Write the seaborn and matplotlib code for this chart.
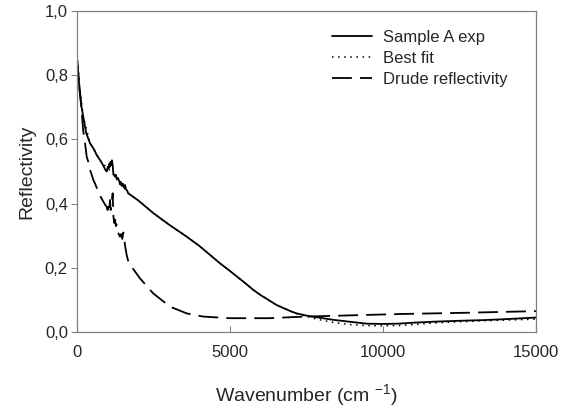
import numpy as np
import pandas as pd
import seaborn as sns
import matplotlib.pyplot as plt
from matplotlib.ticker import FixedLocator, FuncFormatter

# measured spectrum (Sample A exp)
exp_x = [0, 30, 80, 150, 206, 300, 425, 550, 650, 752, 850, 930, 970, 1010, 1040,
         1060, 1078, 1100, 1120, 1140, 1166, 1180, 1200, 1242, 1270, 1300, 1340,
         1380, 1405, 1430, 1460, 1500, 1530, 1569, 1600, 1640, 1677, 2000, 2500,
         3000, 3584, 4000, 4673, 5000, 5500, 5762, 6000, 6525, 7000, 7179, 7500,
         7832, 8366, 9000, 9467, 10000, 10500, 11000, 11634, 12500, 13268,
         14000, 15000]
exp_y = [0.85, 0.82, 0.76, 0.70, 0.67, 0.62, 0.588, 0.57, 0.55, 0.536, 0.52, 0.505,
         0.50, 0.515, 0.51, 0.525, 0.515, 0.53, 0.52, 0.535, 0.52, 0.50, 0.49, 0.484,
         0.49, 0.475, 0.48, 0.47, 0.46, 0.468, 0.455, 0.462, 0.45, 0.458, 0.445, 0.44,
         0.432, 0.41, 0.37, 0.335, 0.297, 0.268, 0.214, 0.19, 0.152, 0.131, 0.115,
         0.084, 0.064, 0.058, 0.051, 0.046, 0.038, 0.031, 0.026, 0.025, 0.026,
         0.029, 0.032, 0.035, 0.037, 0.040, 0.045]

# best fit
fit_x = [0, 80, 206, 425, 752, 1000, 1300, 1677, 2000, 2500, 3000, 3584, 4000,
         4673, 5000, 5500, 5762, 6000, 6525, 7000, 7179, 7500, 7832, 8366, 8920,
         9500, 10000, 10500, 11000, 11634, 12500, 13268, 14000, 15000]
fit_y = [0.865, 0.77, 0.67, 0.59, 0.535, 0.51, 0.48, 0.432, 0.41, 0.37, 0.335,
         0.297, 0.268, 0.214, 0.19, 0.152, 0.131, 0.115, 0.084, 0.064, 0.057, 0.048,
         0.04, 0.03, 0.023, 0.02, 0.019, 0.02, 0.023, 0.028, 0.032, 0.035, 0.037,
         0.04]

# Drude reflectivity
drude_x = [0, 80, 150, 206, 260, 317, 370, 425, 480, 533, 600, 697, 780, 860, 930,
           970, 1000, 1023, 1050, 1078, 1100, 1130, 1166, 1190, 1220, 1242, 1270,
           1300, 1340, 1405, 1440, 1480, 1514, 1569, 1623, 1677, 1786, 2058, 2494,
           3039, 3584, 4128, 5000, 6307, 7179, 7832, 10555, 12745, 15000]
drude_y = [0.85, 0.76, 0.69, 0.624, 0.59, 0.546, 0.53, 0.505, 0.49, 0.474, 0.46,
           0.437, 0.42, 0.406, 0.395, 0.39, 0.38, 0.39, 0.375, 0.411, 0.38, 0.40,
           0.432, 0.36, 0.34, 0.35, 0.33, 0.335, 0.31, 0.297, 0.305, 0.29, 0.31,
           0.27, 0.24, 0.22, 0.203, 0.167, 0.12, 0.079, 0.058, 0.048, 0.043, 0.043,
           0.047, 0.049, 0.056, 0.06, 0.065]

x_ticks = [0, 5000, 10000, 15000]
y_ticks = [0.0, 0.2, 0.4, 0.6, 0.8, 1.0]

sns.set_theme(style="white")
plt.rcParams['font.family'] = ['Liberation Sans', 'DejaVu Sans']

fig, ax = plt.subplots(figsize=(5.72, 4.09), dpi=100)
fig.subplots_adjust(left=77/572, right=536/572, top=1-11/409, bottom=1-332/409)

exp = pd.DataFrame({"x": exp_x, "y": exp_y})
fit = pd.DataFrame({"x": fit_x, "y": fit_y})
drude = pd.DataFrame({"x": drude_x, "y": drude_y})

sns.lineplot(data=fit, x="x", y="y", ax=ax, color="black", lw=1.1,
             linestyle=(0, (1, 3)), label="Best fit", sort=False)
sns.lineplot(data=exp, x="x", y="y", ax=ax, color="black", lw=1.3,
             label="Sample A exp", sort=False)
sns.lineplot(data=drude, x="x", y="y", ax=ax, color="black", lw=1.3,
             linestyle=(0, (11, 4.5)), label="Drude reflectivity", sort=False)

ax.set_xlim(0, 15000)
ax.set_ylim(0, 1)
ax.xaxis.set_major_locator(FixedLocator(x_ticks))
ax.yaxis.set_major_locator(FixedLocator(y_ticks))
ax.yaxis.set_major_formatter(FuncFormatter(lambda v, p: f"{v:.1f}".replace(".", ",")))
ax.xaxis.set_major_formatter(FuncFormatter(lambda v, p: f"{int(v)}"))
ax.tick_params(axis="y", direction="out", length=4, width=0.8, color="#808080",
               labelsize=12, pad=2.5, left=True)
ax.tick_params(axis="x", direction="in", length=4, width=0.8, color="#808080",
               labelsize=12, pad=9.5, bottom=True)
for s in ax.spines.values():
    s.set_color("#808080")
    s.set_linewidth(0.9)

ax.set_xlabel("Wavenumber (cm $^{\\mathregular{-1}}$)", fontsize=14)
ax.set_ylabel("Reflectivity", fontsize=14)
ax.xaxis.set_label_coords(0.5, -0.158)
ax.yaxis.set_label_coords(-0.09, 0.5)

h, l = ax.get_legend_handles_labels()
order = [1, 0, 2]
ax.legend([h[i] for i in order], [l[i] for i in order], loc="upper left",
          bbox_to_anchor=(332/572, 1-30/409), bbox_transform=fig.transFigure,
          frameon=False, fontsize=12, handlelength=2.4, handletextpad=0.65,
          labelspacing=0.35, borderpad=0, borderaxespad=0)

fig.savefig("out.png", dpi=100)
